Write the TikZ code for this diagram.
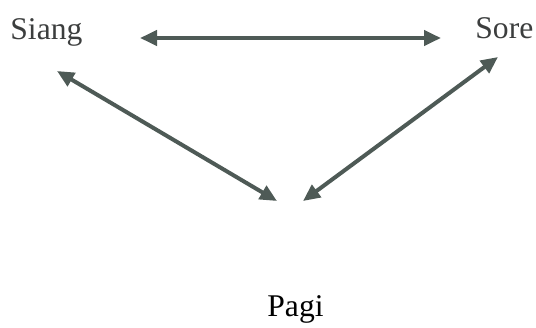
\documentclass[tikz,border=0pt]{standalone}
\usepackage{fontspec}
\setmainfont{Liberation Serif}
\usetikzlibrary{arrows.meta}
\definecolor{arrowgray}{RGB}{78,90,86}
\definecolor{textgray}{RGB}{60,62,62}
\tikzset{
  label/.style={inner sep=0pt, anchor=base west, font=\fontsize{15.8}{19}\selectfont},
  link/.style={draw=arrowgray, line width=2pt, {Triangle[length=8.5pt,width=7.5pt]}-{Triangle[length=8.5pt,width=7.5pt]}}
}
\begin{document}
\begin{tikzpicture}[x=0.5pt,y=-0.5pt]
\useasboundingbox (0,0) rectangle (536,327);

\node[label, text=textgray] (siang) at (10,39) {Siang};
\node[label, text=textgray] (sore) at (475,38) {Sore};
\node[label] (pagi) at (267,316) {Pagi};

% ends of the arrows
\coordinate (siangR) at (140,38);
\coordinate (soreL) at (441,38);
\coordinate (siangB) at (57,71);
\coordinate (soreB) at (498,57);
\coordinate (pagiL) at (277,201);
\coordinate (pagiR) at (303,201);

\draw[link] (siangR) -- (soreL);
\draw[link] (siangB) -- (pagiL);
\draw[link] (pagiR) -- (soreB);
\end{tikzpicture}
\end{document}
